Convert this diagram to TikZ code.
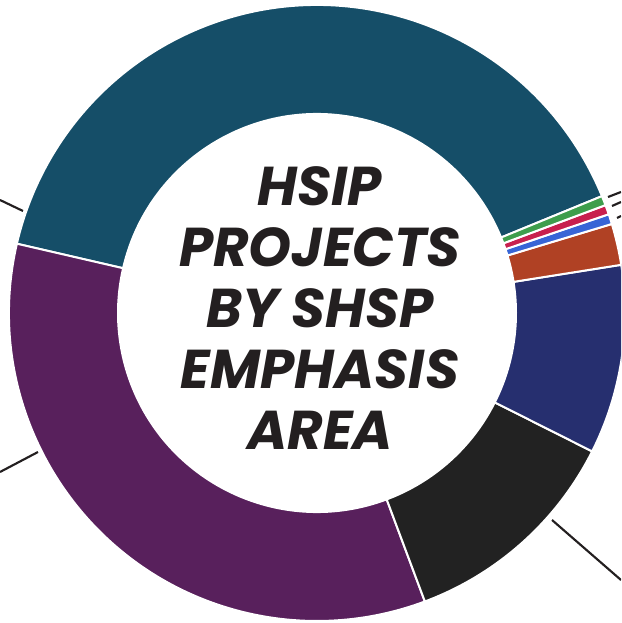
\documentclass[tikz,border=0pt]{standalone}
\usepackage{fontspec}
\newfontfamily\titlefont{Poppins}
\usetikzlibrary{calc}

\definecolor{areaTeal}{HTML}{154E68}
\definecolor{areaPurple}{HTML}{58205C}
\definecolor{areaBlack}{HTML}{222222}
\definecolor{areaNavy}{HTML}{262F6F}
\definecolor{areaOrange}{HTML}{B04124}
\definecolor{areaBlue}{HTML}{3765D6}
\definecolor{areaRed}{HTML}{C8204E}
\definecolor{areaGreen}{HTML}{3E9E4C}
\definecolor{titleInk}{HTML}{231F20}

\begin{document}
\begin{tikzpicture}[
  x = 0.75pt, y = 0.75pt,
  slice/.style = {draw=white, line width=1.5pt, line join=miter},
  leader/.style = {draw=titleInk, line width=1.6pt},
  title/.style = {
    font=\titlefont\bfseries\itshape\fontsize{41}{45.75}\selectfont,
    align=center,
    text=titleInk,
    inner sep=0pt
  }
]

% Frame of the picture (ring is cut at the right edge)
\useasboundingbox (-317,-310) rectangle (304,313);
\clip (-317,-310) rectangle (304,313);

% Ring slices: start angle / end angle / colour
\foreach \a/\b/\c in {22.3/167/areaTeal, 167/290.5/areaPurple,
                      290.5/333.3/areaBlack, 333.3/369/areaNavy,
                      9/16.8/areaOrange, 16.8/18.7/areaBlue,
                      18.7/20.5/areaRed, 20.5/22.3/areaGreen}
  \draw[slice, fill=\c] (\a:308) arc[start angle=\a, end angle=\b, radius=308]
    -- (\b:199) arc[start angle=\b, end angle=\a, radius=199] -- cycle;

% Leader lines towards the (cut off) labels
\draw[leader] (-317,113) -- (-294,102);
\draw[leader] (-317,-159) -- (-279,-139);
\draw[leader] (304,-267) -- (235,-207);
\draw[leader] (304,121) -- (291,116);
\draw[leader] (304,111) -- (295,107);
\draw[leader] (304,97) -- (300,95);

% Title in the hole
\node[title] (heading) at (3,5) {HSIP\\PROJECTS\\BY SHSP\\EMPHASIS\\AREA};

\end{tikzpicture}
\end{document}
